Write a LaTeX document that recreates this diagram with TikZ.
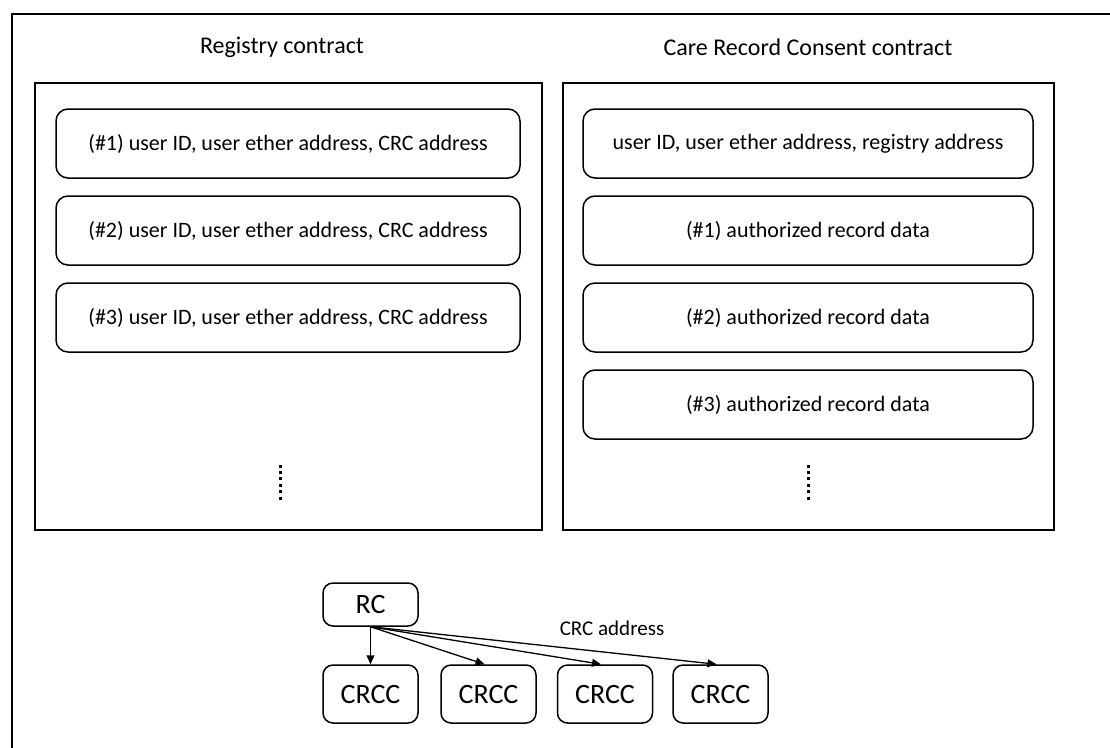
\documentclass[tikz,border=0pt]{standalone}
\usepackage{fontspec}
\setmainfont{Carlito}
\usetikzlibrary{arrows.meta}
\begin{document}
\begin{tikzpicture}[x=1pt,y=-1pt,
  frame/.style={line width=2.4pt},
  panel/.style={draw, line width=1.8pt, inner sep=0pt},
  entry/.style={draw, line width=1.5pt, rounded corners=12pt, inner sep=0pt,
    minimum height=69pt, font=\fontsize{22}{26}\selectfont},
  heading/.style={font=\fontsize{24}{29}\selectfont},
  unit/.style={draw, line width=1.5pt, rounded corners=10pt, inner sep=0pt,
    minimum width=95pt, font=\fontsize{28}{33}\selectfont},
  vdots/.style={line width=3pt, dash pattern=on 3pt off 3.4pt},
  link/.style={line width=1.3pt, -{Triangle[length=9pt,width=8pt]}},
  note/.style={font=\fontsize{21}{25}\selectfont}]
\useasboundingbox (0,0) rectangle (1110,747);
\begin{scope}
\clip (0,0) rectangle (1110,747);
\draw[frame] (12,760) |- (1125,14);
\end{scope}

% the two contract panels
\node[panel, minimum width=507pt, minimum height=447pt] (regp) at (288.5,306.5) {};
\node[panel, minimum width=491pt, minimum height=447pt] (crcp) at (808.5,306.5) {};
\node[heading] (regt) at (282,47) {Registry contract};
\node[heading] (crct) at (808,47) {Care Record Consent contract};

% registry entries
\node[entry, minimum width=464pt] (r1) at (288,143.5) {(\#1) user ID, user ether address, CRC address};
\node[entry, minimum width=464pt] (r2) at (288,230.5) {(\#2) user ID, user ether address, CRC address};
\node[entry, minimum width=464pt] (r3) at (288,317.5) {(\#3) user ID, user ether address, CRC address};
\draw[vdots] (280,464.5) -- (280,500);

% consent contract entries
\node[entry, minimum width=450pt] (c0) at (808,143.5) {user ID, user ether address, registry address};
\node[entry, minimum width=450pt] (c1) at (808,230.5) {(\#1) authorized record data};
\node[entry, minimum width=450pt] (c2) at (808,317.5) {(\#2) authorized record data};
\node[entry, minimum width=450pt] (c3) at (808,404.5) {(\#3) authorized record data};
\draw[vdots] (808,464.5) -- (808,500);

% registry pointing to the consent contracts
\node[unit, minimum height=43pt] (rc) at (370.5,604.5) {RC};
\node[unit, minimum height=58pt] (k1) at (370.5,694) {CRCC};
\node[unit, minimum height=58pt] (k2) at (488.5,694) {CRCC};
\node[unit, minimum height=58pt] (k3) at (605,694) {CRCC};
\node[unit, minimum height=58pt] (k4) at (720.5,694) {CRCC};
\draw[link] (rc.south) -- (k1.north);
\draw[link] (rc.south) -- ([xshift=-4pt]k2.north);
\draw[link] (rc.south) -- ([xshift=-4pt]k3.north);
\draw[link] (rc.south) -- ([xshift=-4pt]k4.north);
\node[note] (addr) at (612,628) {CRC address};
\end{tikzpicture}
\end{document}
